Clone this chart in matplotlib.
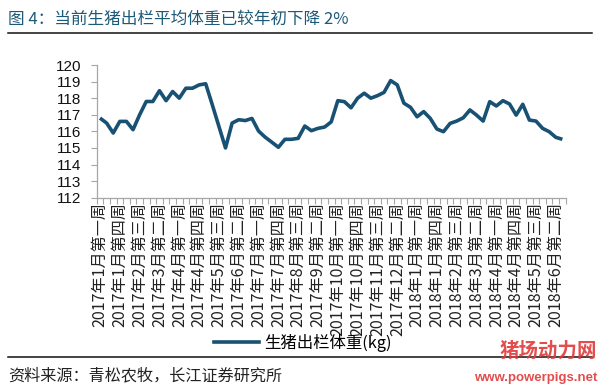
import numpy as np
import matplotlib
matplotlib.use("Agg")
import matplotlib.pyplot as plt
from matplotlib.lines import Line2D

plt.rcParams['font.family'] = ['Noto Sans CJK SC', 'DejaVu Sans']

title = "图 4：当前生猪出栏平均体重已较年初下降 2%"
source = "资料来源：青松农牧，长江证券研究所"
series_name = "生猪出栏体重(kg)"

weights = [116.8, 116.5, 115.9, 116.6, 116.6, 116.1, 117.0, 117.8, 117.8, 118.45,
           117.85, 118.4, 118.0, 118.6, 118.6, 118.8, 118.87, 117.6, 116.3, 115.0,
           116.5, 116.7, 116.65, 116.78, 116.02, 115.65, 115.35, 115.04, 115.52, 115.52,
           115.58, 116.32, 116.04, 116.18, 116.26, 116.57, 117.85, 117.79, 117.42, 118.0,
           118.3, 118.0, 118.15, 118.35, 119.06, 118.8, 117.7, 117.45, 116.88, 117.19,
           116.78, 116.14, 115.98, 116.48, 116.62, 116.82, 117.29, 116.98, 116.62, 117.79,
           117.53, 117.85, 117.65, 116.98, 117.63, 116.68, 116.62, 116.18, 115.98, 115.64,
           115.52]

tick_labels = ["2017年1月第一周", "2017年1月第四周", "2017年2月第三周", "2017年3月第二周",
               "2017年4月第一周", "2017年4月第四周", "2017年5月第三周", "2017年6月第二周",
               "2017年7月第一周", "2017年7月第四周", "2017年8月第三周", "2017年9月第二周",
               "2017年10月第一周", "2017年10月第四周", "2017年11月第三周", "2017年12月第二周",
               "2018年1月第一周", "2018年1月第四周", "2018年2月第三周", "2018年3月第二周",
               "2018年4月第一周", "2018年4月第四周", "2018年5月第三周", "2018年6月第二周"]
label_step = 3
y_ticks = [112, 113, 114, 115, 116, 117, 118, 119, 120]

n = len(weights)
x = np.arange(n)

fig = plt.figure(figsize=(6.0, 3.87), dpi=100)
fig.patch.set_facecolor('white')
W, H = 600, 387
ax = fig.add_axes([96.7 / W, 1 - 197.7 / H, (565.7 - 96.7) / W, (197.7 - 65) / H])

line_color = '#185173'
ax.plot(x, weights, color=line_color, lw=2.6, solid_joinstyle='round', solid_capstyle='butt')

ax.set_xlim(-0.5, n - 0.5)
ax.set_ylim(112, 120)
ax.set_yticks(y_ticks)
ax.set_yticklabels([str(v) for v in y_ticks], family=['Liberation Sans', 'DejaVu Sans'], fontsize=11)

# boundary tick marks
ax.set_xticks(np.arange(-0.5, n, 1))
ax.set_xticklabels([])
ax.tick_params(axis='x', which='major', length=4, width=0.8, color='#a6a6a6', direction='out')
lab_pos = np.arange(0, len(tick_labels) * label_step, label_step)
ax.set_xticks(lab_pos, minor=True)
ax.set_xticklabels(tick_labels, minor=True, rotation=90, fontsize=11.6, color='#222222',
                   va='top', ha='center')
ax.tick_params(axis='x', which='minor', length=0, pad=3)
ax.tick_params(axis='y', length=4, width=0.8, color='#a6a6a6', direction='out', pad=7,
               labelcolor='#111111')

for s in ['top', 'right']:
    ax.spines[s].set_visible(False)
for s in ['left', 'bottom']:
    ax.spines[s].set_color('#a6a6a6')
    ax.spines[s].set_linewidth(0.9)

# title
fig.text(8 / W, 1 - 19 / H, title, fontsize=12, color='#1d5a78', va='center', ha='left',
         fontweight='medium')
fig.add_artist(Line2D([8 / W, 592 / W], [1 - 33 / H] * 2, color='#111111', lw=1.1))

# legend
handle = Line2D([0], [0], color=line_color, lw=2.6)
fig.legend([handle], [series_name], loc='center', bbox_to_anchor=(303 / W, 1 - 343 / H),
           frameon=False, fontsize=11.8, handlelength=2.7, handletextpad=0.35)

# bottom rule and source
fig.add_artist(Line2D([8 / W, 592 / W], [1 - 357 / H] * 2, color='#111111', lw=1.1))
fig.text(8 / W, 1 - 376 / H, source, fontsize=11.6, color='#222222', va='center', ha='left')

# watermark
fig.text(597 / W, 1 - 351 / H, "猪场动力网", fontsize=14, color='#e03a3a', va='center',
         ha='right', fontweight='bold', alpha=0.9)
fig.text(597 / W, 1 - 378 / H, "www.powerpigs.net", fontsize=9.5, color='#e03a3a', va='center',
         ha='right', fontweight='bold', family=['Liberation Sans', 'DejaVu Sans'], alpha=0.9)

fig.savefig('out.png', dpi=100, facecolor='white')
